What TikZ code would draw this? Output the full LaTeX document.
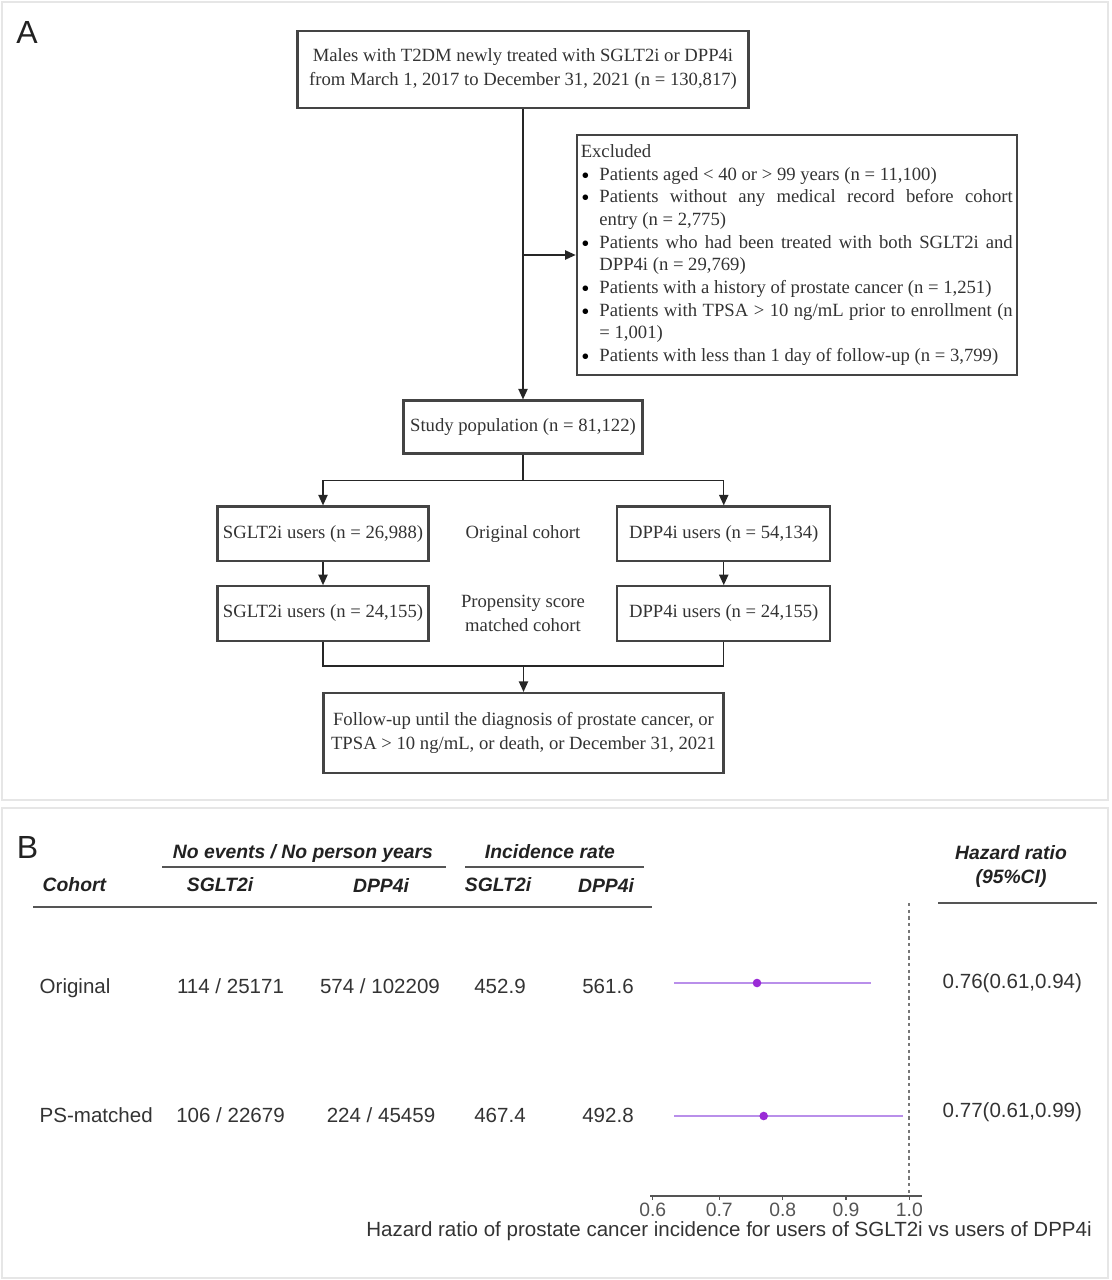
\documentclass[tikz,border=0pt]{standalone}
\usepackage{fontspec}
\setmainfont{Liberation Serif}
\newfontfamily\arialf{Liberation Sans}
\usetikzlibrary{arrows.meta}
\definecolor{txt}{HTML}{333333}
\definecolor{txtb}{HTML}{222222}
\definecolor{boxc}{HTML}{444444}
\definecolor{framec}{HTML}{E6E6E6}
\definecolor{axc}{HTML}{555555}
\definecolor{ciline}{HTML}{B98FEA}
\definecolor{cidot}{HTML}{9A2BD6}
\newcommand\flowf{\fontsize{14}{18}\selectfont}
\newcommand\exf{\fontsize{14}{17}\selectfont}
\newcommand\cellf{\arialf\fontsize{15.4}{18}\selectfont}
\newcommand\hdrf{\arialf\bfseries\itshape\fontsize{14.5}{19}\selectfont}
\newcommand\tickf{\arialf\fontsize{14.5}{17}\selectfont}
\newcommand\panelf{\arialf\fontsize{24}{28}\selectfont}
\newcommand\exitem{\par\noindent\hangindent=14pt\hangafter=1\makebox[14pt][l]{\hspace{0.5pt}\raisebox{-0.35ex}{\textcolor{black}{\scalebox{1.25}{\textbullet}}}}}
\tikzset{
  box/.style={draw=boxc, line width=1.6pt, inner sep=0pt, align=center, font=\flowf, text=txt},
  arr/.style={-{Triangle[length=8pt,width=7pt]}, line width=1.1pt, draw=black!85},
  con/.style={line width=1.1pt, draw=black!85},
  plain/.style={font=\flowf, text=txt, align=center},
  hdr/.style={font=\hdrf, text=txtb},
  cell/.style={font=\cellf, text=txt},
  rule/.style={draw=axc, line width=1.5pt},
  frame/.style={draw=framec, line width=2pt},
}
\begin{document}
\begin{tikzpicture}[x=0.75pt,y=-0.75pt]
\useasboundingbox (0,0) rectangle (1112,1280);
% panel frames
\draw[frame] (2,2) rectangle (1108,800);
\draw[frame] (2,808) rectangle (1108,1278);
\node[font=\panelf, text=txtb] (lblA) at (27,32) {A};
\node[font=\panelf, text=txtb] (lblB) at (27.5,847) {B};

% ---------------- Panel A -----------------
\node[box, minimum width=338.25pt, minimum height=57.75pt] (top) at (523,69.5)
  {Males with T2DM newly treated with SGLT2i or DPP4i\\from March 1, 2017 to December 31, 2021 (n = 130,817)};
\node[box, text width=324pt, inner xsep=3pt, minimum height=180pt, align=justify, font=\exf] (excl) at (796.75,255)
  {Excluded
   \exitem Patients aged < 40 or > 99 years (n = 11,100)
   \exitem Patients without any medical record before cohort\linebreak entry (n = 2,775)
   \exitem Patients who had been treated with both SGLT2i and\linebreak DPP4i (n = 29,769)
   \exitem Patients with a history of prostate cancer (n = 1,251)
   \exitem Patients with TPSA > 10 ng/mL prior to enrollment (n\linebreak = 1,001)
   \exitem Patients with less than 1 day of follow-up (n = 3,799)};
\node[box, minimum width=179.25pt, minimum height=39.75pt] (study) at (523,427) {Study population (n = 81,122)};
\node[box, minimum width=158.25pt, minimum height=40.9pt] (s1) at (323,533.75) {SGLT2i users (n = 26,988)};
\node[box, minimum width=160pt, minimum height=40.9pt] (d1) at (723.75,533.75) {DPP4i users (n = 54,134)};
\node[box, minimum width=158.25pt, minimum height=40.9pt] (s2) at (323,613.5) {SGLT2i users (n = 24,155)};
\node[box, minimum width=160pt, minimum height=40.9pt] (d2) at (723.75,613.5) {DPP4i users (n = 24,155)};
\node[plain] (orig) at (523,533.75) {Original cohort};
\node[plain] (psm) at (523,613.5) {Propensity score\\matched cohort};
\node[box, minimum width=300pt, minimum height=60pt] (fu) at (523.5,733)
  {Follow-up until the diagnosis of prostate cancer, or\\TPSA > 10 ng/mL, or death, or December 31, 2021};

\draw[arr] (top.south) -- (study.north);
\draw[arr] (top.south |- excl.west) -- (excl.west);
\coordinate (split) at ([yshift=-19.5pt]study.south);
\draw[con] (study.south) -- (split);
\draw[arr] (split) -| (s1.north);
\draw[arr] (split) -| (d1.north);
\draw[arr] (s1.south) -- (s2.north);
\draw[arr] (d1.south) -- (d2.north);
\coordinate (join) at ([yshift=19.5pt]fu.north);
\draw[con] (s2.south) |- (join);
\draw[con] (d2.south) |- (join);
\draw[arr] (join) -- (fu.north);

% ---------------- Panel B -----------------
\node[hdr] (hA) at (303,853) {No events / No person years};
\node[hdr] (hB) at (550,852) {Incidence rate};
\draw[rule] (162,866.5) -- (446,866.5);
\draw[rule] (465,866.5) -- (644,866.5);
\node[hdr, anchor=west] (hC) at (38,885) {Cohort};
\node[hdr] (hD) at (220,885) {SGLT2i};
\node[hdr] (hE) at (381,885) {DPP4i};
\node[hdr] (hF) at (498,885) {SGLT2i};
\node[hdr] (hG) at (606,885) {DPP4i};
\draw[rule] (33,907) -- (652,907);
\node[hdr] (hH) at (1011,853) {Hazard ratio};
\node[hdr] (hI) at (1011,878) {(95\%CI)};
\draw[rule] (938,903) -- (1097,903);

% rows
\node[cell, anchor=west] (r1a) at (35,988) {Original};
\node[cell] (r1b) at (230.5,986) {114 / 25171};
\node[cell] (r1c) at (380,986) {574 / 102209};
\node[cell] (r1d) at (500,986) {452.9};
\node[cell] (r1e) at (608,986) {561.6};
\node[cell, anchor=west] (r1f) at (938,983) {0.76(0.61,0.94)};

\node[cell, anchor=west] (r2a) at (35,1115) {PS-matched};
\node[cell] (r2b) at (230.5,1115) {106 / 22679};
\node[cell] (r2c) at (381,1115) {224 / 45459};
\node[cell] (r2d) at (500,1115) {467.4};
\node[cell] (r2e) at (608,1115) {492.8};
\node[cell, anchor=west] (r2f) at (938,1112) {0.77(0.61,0.99)};

% forest plot
\draw[axc!80, line width=1.3pt, dash pattern=on 2.5pt off 2.5pt] (909.3,903) -- (909.3,1196);
\draw[ciline, line width=1.3pt] (674,983) -- (871,983);
\fill[cidot] (757,983) circle (4.3);
\draw[ciline, line width=1.3pt] (674,1116) -- (903,1116);
\fill[cidot] (763.7,1116) circle (4.3);
\draw[axc, line width=1.3pt] (650,1196) -- (922,1196);
\foreach \xv/\lab [count=\i] in {652.7/0.6, 719.3/0.7, 782.7/0.8, 846/0.9, 909.3/1.0}{
  \draw[axc, line width=1pt] (\xv,1196) -- (\xv,1200);
  \node[font=\tickf, text=axc] (tk\i) at (\xv,1210) {\lab};
}
\node[font=\cellf, text=txt] (axlab) at (729,1231) {Hazard ratio of prostate cancer incidence for users of SGLT2i vs users of DPP4i};
\end{tikzpicture}
\end{document}
